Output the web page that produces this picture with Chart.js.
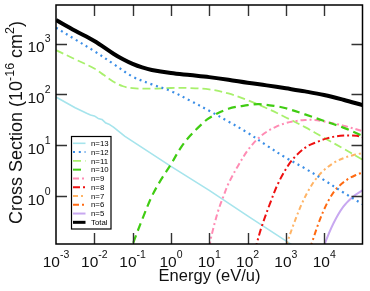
<!DOCTYPE html>
<html><head><meta charset="utf-8">
<script src="https://cdn.jsdelivr.net/npm/chart.js@4/dist/chart.umd.min.js"></script>
<style>html,body{margin:0;padding:0;background:#fff}</style>
</head><body>
<canvas id="c" width="370" height="291"></canvas>
<script>
// ---- data ----
const xTickVals = [1e-3, 1e-2, 1e-1, 1e0, 1e1, 1e2, 1e3, 1e4];
const xTickExps = ['-3', '-2', '-1', '0', '1', '2', '3', '4'];
const yTickVals = [1e0, 1e1, 1e2, 1e3];
const yTickExps = ['0', '1', '2', '3'];
const seriesNames = ['n=13', 'n=12', 'n=11', 'n=10', 'n=9', 'n=8', 'n=7', 'n=6', 'n=5', 'Total'];

const n13E = [0.001, 0.00316, 0.00631, 0.00794, 0.01, 0.0126, 0.0158, 0.02, 0.0251, 0.0316, 0.0631, 0.1, 1, 10, 100, 1000, 2000];
const n13S = [89.1, 55.0, 42.7, 39.8, 38.0, 33.9, 32.4, 27.5, 25.7, 22.9, 15.1, 12.0, 3.89, 1.32, 0.417, 0.135, 0.0955];

const n12E = [1e-3, 3.16e-3, 1e-2, 3.16e-2, 0.1, 0.316, 1, 3.16, 10, 31.6, 100, 316, 1000, 3162, 1e4, 31623, 1e5];
const n12S = [2042, 1202, 708, 398, 224, 158, 117, 75.9, 47.9, 29.5, 17.8, 10.0, 5.75, 3.55, 2.09, 1.20, 0.708];

const n11E = [1e-3, 3.16e-3, 1e-2, 1.78e-2, 3.16e-2, 5.62e-2, 0.1, 0.316, 1, 3.16, 10, 31.6, 100, 316, 1000, 3162, 1e4, 31623, 1e5];
const n11S = [741, 490, 324, 240, 178, 145, 133, 130, 134, 134, 126, 105, 77.6, 53.7, 35.5, 22.9, 14.1, 8.71, 5.25];

const n10E = [0.0794, 0.1, 0.178, 0.316, 0.562, 1, 1.78, 3.16, 5.62, 10, 31.6, 100, 200, 562, 1000, 3162, 1e4, 31623, 1e5];
const n10S = [0.0708, 0.115, 0.355, 1.0, 2.19, 4.27, 8.91, 15.5, 24.0, 34.7, 52.5, 61.7, 64.6, 58.9, 53.7, 40.7, 30.2, 22.4, 15.5];

const n9E = [10, 11.2, 14.1, 17.8, 23.4, 31.6, 56.2, 100, 178, 316, 562, 1000, 1778, 3162, 5623, 1e4, 31623, 1e5];
const n9S = [0.1, 0.158, 0.316, 0.575, 1.0, 1.78, 3.98, 7.94, 13.2, 18.6, 23.4, 27.5, 30.2, 31.6, 31.6, 29.5, 24.5, 19.1];

const n8E = [158, 174, 234, 389, 631, 1175, 1905, 3548, 6457, 11749, 26303, 70795, 1e5];
const n8S = [0.089, 0.12, 0.257, 0.741, 1.82, 4.17, 6.46, 9.55, 11.7, 13.8, 15.5, 15.5, 14.5];

const n7E = [1000, 1585, 2512, 3981, 6310, 1e4, 17783, 31623, 56234, 1e5];
const n7S = [0.105, 0.282, 0.676, 1.35, 2.29, 3.31, 4.57, 5.62, 6.46, 7.08];

const n6E = [4266, 5012, 7079, 1e4, 14125, 21380, 39811, 70795, 1e5];
const n6S = [0.0955, 0.138, 0.295, 0.562, 0.933, 1.45, 2.14, 2.69, 2.95];

const n5E = [9550, 10471, 17378, 31623, 57544, 1e5];
const n5S = [0.089, 0.12, 0.295, 0.631, 1.0, 1.32];

const totE = [1e-3, 3.16e-3, 1e-2, 3.16e-2, 5.62e-2, 0.1, 0.178, 0.316, 1, 3.16, 10, 31.6, 100, 316, 1000, 3162, 1e4, 31623, 1e5];
const totS = [2884, 1778, 1122, 631, 490, 398, 339, 302, 263, 240, 219, 195, 170, 151, 132, 115, 98, 79, 62];

// ---- styles ----
const styles = {
  'n=13': {color: '#a6e4ec', width: 1.6, dash: [], tension: 0},
  'n=12': {color: '#3b8ee6', width: 2.2, dash: [2, 3.8], tension: 0.35},
  'n=11': {color: '#a8f06c', width: 1.8, dash: [8, 4], tension: 0.35},
  'n=10': {color: '#40cc12', width: 2.2, dash: [8, 5], tension: 0.35},
  'n=9':  {color: '#ff8cb4', width: 2, dash: [6, 3, 2, 3], tension: 0.35},
  'n=8':  {color: '#ee1010', width: 2, dash: [7, 3, 2, 3], tension: 0.35},
  'n=7':  {color: '#ffb466', width: 2, dash: [5, 3, 2, 3], tension: 0.35},
  'n=6':  {color: '#ff6a12', width: 2, dash: [6, 3, 2, 3], tension: 0.35},
  'n=5':  {color: '#c8a8f0', width: 2, dash: [], tension: 0.35},
  'Total': {color: '#000000', width: 4, dash: [], tension: 0.35}
};

const seriesData = {
  'n=13': [n13E, n13S], 'n=12': [n12E, n12S], 'n=11': [n11E, n11S], 'n=10': [n10E, n10S],
  'n=9': [n9E, n9S], 'n=8': [n8E, n8S], 'n=7': [n7E, n7S], 'n=6': [n6E, n6S],
  'n=5': [n5E, n5S], 'Total': [totE, totS]
};

function pts(E, S) { return E.map((e, i) => ({x: e, y: S[i]})); }

const drawOrder = ['Total', 'n=10', 'n=8', 'n=9', 'n=12', 'n=11', 'n=7', 'n=6', 'n=5', 'n=13'];
const datasets = drawOrder.map(name => {
  const st = styles[name];
  const d = seriesData[name];
  return {
    label: name,
    data: pts(d[0], d[1]),
    borderColor: st.color,
    backgroundColor: st.color,
    borderWidth: st.width,
    borderDash: st.dash,
    borderJoinStyle: 'round',
    pointRadius: 0,
    fill: false,
    tension: st.tension,
    clip: 0
  };
});

const FONT = '"Liberation Sans", Arial, Helvetica, sans-serif';

function supWidth(ctx, parts, baseSize, supSize) {
  let w = 0;
  for (const p of parts) {
    ctx.font = (p.sup ? supSize : baseSize) + 'px ' + FONT;
    w += ctx.measureText(p.t).width;
  }
  return w;
}
function drawParts(ctx, parts, x, y, baseSize, supSize, raise) {
  let cx = x;
  for (const p of parts) {
    ctx.font = (p.sup ? supSize : baseSize) + 'px ' + FONT;
    ctx.fillText(p.t, cx, p.sup ? y - raise : y);
    cx += ctx.measureText(p.t).width;
  }
}

const decor = {
  id: 'decor',
  afterDatasetsDraw(chart) {
    const ctx = chart.ctx;
    const a = chart.chartArea;
    const xs = chart.scales.x, ys = chart.scales.y;
    ctx.save();
    // inside ticks
    ctx.strokeStyle = '#333';
    ctx.lineWidth = 1.4;
    ctx.setLineDash([]);
    const TL = 11;
    xTickVals.forEach(v => {
      const px = Math.round(xs.getPixelForValue(v)) + 0.5;
      if (px <= a.left + 1 || px >= a.right - 1) return;
      ctx.beginPath();
      ctx.moveTo(px, a.bottom); ctx.lineTo(px, a.bottom - TL);
      ctx.moveTo(px, a.top); ctx.lineTo(px, a.top + TL);
      ctx.stroke();
    });
    yTickVals.forEach(v => {
      const py = Math.round(ys.getPixelForValue(v)) + 0.5;
      ctx.beginPath();
      ctx.moveTo(a.left, py); ctx.lineTo(a.left + TL, py);
      ctx.moveTo(a.right, py); ctx.lineTo(a.right - TL, py);
      ctx.stroke();
    });
    // frame
    ctx.strokeStyle = '#000';
    ctx.lineWidth = 1.5;
    ctx.strokeRect(a.left, a.top, a.right - a.left, a.bottom - a.top);

    ctx.fillStyle = '#111';
    ctx.textBaseline = 'alphabetic';
    ctx.textAlign = 'left';
    // x tick labels
    xTickVals.forEach((v, i) => {
      const px = xs.getPixelForValue(v);
      const parts = [{t: '10', sup: false}, {t: xTickExps[i], sup: true}];
      const w = supWidth(ctx, parts, 15.5, 10.5);
      drawParts(ctx, parts, px - w / 2, 266.5, 15.5, 10.5, 8.5);
    });
    // y tick labels
    yTickVals.forEach((v, i) => {
      const py = ys.getPixelForValue(v);
      const parts = [{t: '10', sup: false}, {t: yTickExps[i], sup: true}];
      const w = supWidth(ctx, parts, 15.5, 10.5);
      drawParts(ctx, parts, 50.5 - w, py + 8.2, 15.5, 10.5, 10);
    });
    // x title
    ctx.font = '16.5px ' + FONT;
    ctx.textAlign = 'center';
    ctx.fillText('Energy (eV/u)', 209.5, 281);
    // y title
    ctx.textAlign = 'left';
    const tparts = [{t: 'Cross Section (10', sup: false}, {t: '-16', sup: true}, {t: ' cm', sup: false}, {t: '2', sup: true}, {t: ')', sup: false}];
    const tw = supWidth(ctx, tparts, 18, 12.5);
    ctx.translate(21.5, 122.5);
    ctx.rotate(-Math.PI / 2);
    drawParts(ctx, tparts, -tw / 2, 0, 18, 12.5, 7.5);
    ctx.restore();

    // legend
    ctx.save();
    const lx = 71, ly = 136, lw = 39.5, lh = 92.5;
    ctx.fillStyle = '#fff';
    ctx.fillRect(lx, ly, lw, lh);
    ctx.strokeStyle = '#000';
    ctx.lineWidth = 1.2;
    ctx.strokeRect(lx + 0.5, ly + 0.5, lw, lh);
    ctx.font = '7.8px ' + FONT;
    ctx.textBaseline = 'middle';
    ctx.textAlign = 'left';
    seriesNames.forEach((name, i) => {
      const st = styles[name];
      const y = 143.3 + i * 8.78;
      ctx.strokeStyle = st.color;
      ctx.lineWidth = name === 'Total' ? 3 : Math.min(st.width, 2);
      ctx.setLineDash(st.dash);
      ctx.beginPath();
      ctx.moveTo(73, y); ctx.lineTo(85.5, y);
      ctx.stroke();
      ctx.setLineDash([]);
      ctx.fillStyle = '#000';
      ctx.fillText(name, 91, y + 0.5);
    });
    ctx.restore();
  }
};

new Chart(document.getElementById('c'), {
  type: 'line',
  data: {datasets},
  options: {
    responsive: false,
    animation: false,
    devicePixelRatio: 1,
    layout: {padding: {top: 5, right: 7.5, left: 0, bottom: 0}},
    plugins: {legend: {display: false}, tooltip: {enabled: false}},
    scales: {
      x: {
        type: 'logarithmic', min: 1e-3, max: 1e5,
        ticks: {display: false}, grid: {display: false}, border: {display: false},
        afterFit: s => { s.height = 47; }
      },
      y: {
        type: 'logarithmic', min: 0.117, max: 5690,
        ticks: {display: false}, grid: {display: false}, border: {display: false},
        afterFit: s => { s.width = 56; }
      }
    }
  },
  plugins: [decor]
});
</script>
</body></html>
